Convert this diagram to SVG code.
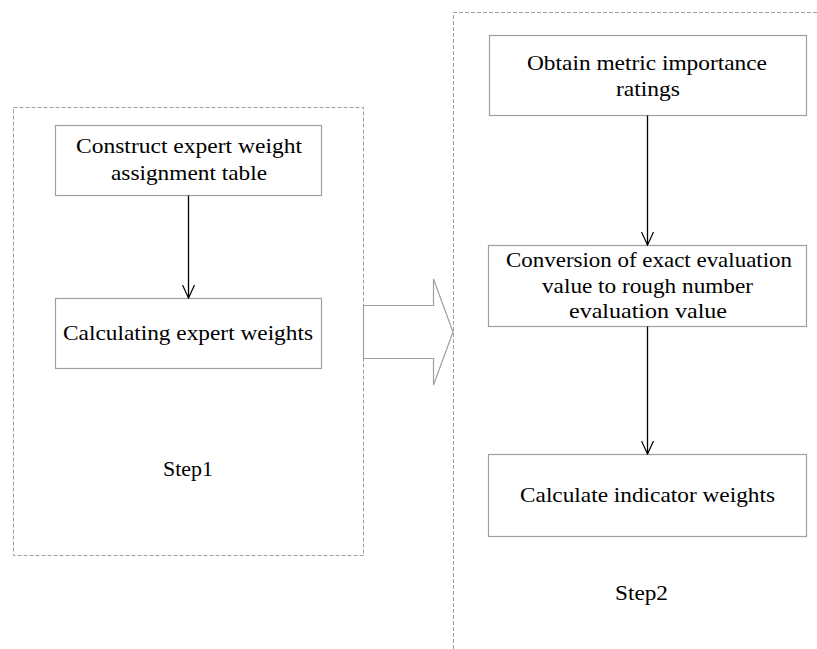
<svg xmlns="http://www.w3.org/2000/svg" width="817" height="649" viewBox="0 0 817 649">
<defs>
<marker id="v" viewBox="0 0 14 14" refX="13" refY="7" markerWidth="14" markerHeight="14" markerUnits="userSpaceOnUse" orient="auto">
<path d="M0,1 L13,7 L0,13" fill="none" stroke="#000" stroke-width="1.2"/>
</marker>
<style>
.box{fill:#fff;stroke:#a0a0a0;stroke-width:1.2}
.dash{fill:none;stroke:#a0a0a0;stroke-width:1;stroke-dasharray:4 2}
.t{font-family:"Liberation Serif",serif;font-size:21px;fill:#000;text-anchor:middle}
.c{stroke:#000;stroke-width:1.3;fill:none;marker-end:url(#v)}
</style>
</defs>
<rect width="817" height="649" fill="#fff"/>
<g id="step1">
<rect class="dash" x="13.5" y="107.5" width="350" height="448"/>
<text class="t" x="188" y="476" textLength="50" lengthAdjust="spacingAndGlyphs">Step1</text>
</g>
<g id="step2">
<path class="dash" d="M453.5,649 L453.5,12.5 L817,12.5"/>
<text class="t" x="641.5" y="600" textLength="53" lengthAdjust="spacingAndGlyphs">Step2</text>
</g>
<g id="bigarrow">
<path d="M363.5,305.5 L433.5,305.5 L433.5,279 L453,332 L433.5,385 L433.5,358.5 L363.5,358.5 Z" fill="#fff" stroke="#a0a0a0" stroke-width="1.2"/>
</g>
<g id="n1">
<rect class="box" x="55.5" y="125.5" width="266" height="70"/>
<text class="t" x="189" y="153" textLength="226" lengthAdjust="spacingAndGlyphs">Construct expert weight</text>
<text class="t" x="189" y="180" textLength="156" lengthAdjust="spacingAndGlyphs">assignment table</text>
</g>
<g id="n2">
<rect class="box" x="55.5" y="298.5" width="266" height="70"/>
<text class="t" x="188" y="340" textLength="250" lengthAdjust="spacingAndGlyphs">Calculating expert weights</text>
</g>
<g id="n3">
<rect class="box" x="489.5" y="35.5" width="317" height="80"/>
<text class="t" x="647" y="70" textLength="240" lengthAdjust="spacingAndGlyphs">Obtain metric importance</text>
<text class="t" x="648" y="96" textLength="64" lengthAdjust="spacingAndGlyphs">ratings</text>
</g>
<g id="n4">
<rect class="box" x="488.5" y="245.5" width="318" height="81"/>
<text class="t" x="649" y="267" textLength="286" lengthAdjust="spacingAndGlyphs">Conversion of exact evaluation</text>
<text class="t" x="647.5" y="293" textLength="211" lengthAdjust="spacingAndGlyphs">value to rough number</text>
<text class="t" x="648" y="318" textLength="158" lengthAdjust="spacingAndGlyphs">evaluation value</text>
</g>
<g id="n5">
<rect class="box" x="488.5" y="454.5" width="318" height="82"/>
<text class="t" x="647.5" y="502" textLength="255" lengthAdjust="spacingAndGlyphs">Calculate indicator weights</text>
</g>
<g id="connectors">
<path class="c" d="M188.5,195.5 L188.5,298"/>
<path class="c" d="M647.5,115.5 L647.5,245"/>
<path class="c" d="M647.5,326.5 L647.5,454"/>
</g>
</svg>
